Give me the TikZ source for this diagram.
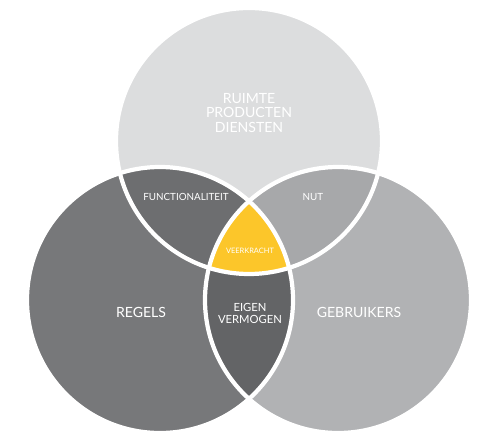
\documentclass[tikz,border=0pt]{standalone}
\usepackage{fontspec}
\setmainfont{Lato}
\usepackage{tikz}
\usetikzlibrary{calc}

\definecolor{topgray}{HTML}{DCDDDE}
\definecolor{leftgray}{HTML}{77787A}
\definecolor{rightgray}{HTML}{B1B2B4}
\definecolor{funcgray}{HTML}{6D6E70}
\definecolor{nutgray}{HTML}{A7A8AA}
\definecolor{eigengray}{HTML}{636466}
\definecolor{veeryellow}{HTML}{FCC62A}

\begin{document}
\begin{tikzpicture}[
  lbl/.style={text=white,align=center,inner sep=0pt},
  rim/.style={draw=white,line width=3pt}]
\useasboundingbox (0cm,0cm) rectangle (12.325cm,10.875cm);
\coordinate (T) at (6.225cm,7.35cm) ;
\coordinate (L) at (4.0cm,3.375cm) ;
\coordinate (R) at (8.45cm,3.375cm) ;
\def\rad{3.325cm}
% the three sets
\fill[topgray] (T) circle (\rad);
\fill[leftgray] (L) circle (\rad);
\fill[rightgray] (R) circle (\rad);
% pairwise overlaps
\begin{scope}
\clip (T) circle (\rad);
\fill[funcgray] (L) circle (\rad);
\fill[nutgray] (R) circle (\rad);
\end{scope}
\begin{scope}
\clip (L) circle (\rad);
\fill[eigengray] (R) circle (\rad);
\end{scope}
% centre
\begin{scope}
\clip (T) circle (\rad);
\clip (L) circle (\rad);
\fill[veeryellow] (R) circle (\rad);
\end{scope}
\draw[rim] (T) circle (\rad);
\draw[rim] (L) circle (\rad);
\draw[rim] (R) circle (\rad);
% labels
\node[lbl,font=\fontsize{10}{10.5}\selectfont] (ruimte) at (6.225cm,8.05cm) {RUIMTE\\PRODUCTEN\\DIENSTEN};
\node[lbl,font=\fontsize{7}{9}\selectfont] (func) at (4.65cm,5.95cm) {FUNCTIONALITEIT};
\node[lbl,font=\fontsize{7}{9}\selectfont] (nut) at (7.825cm,5.95cm) {NUT};
\node[lbl,font=\fontsize{5.3}{7}\selectfont] (veer) at (6.25cm,4.6cm) {VEERKRACHT};
\node[lbl,font=\fontsize{10}{12}\selectfont] (regels) at (3.525cm,3.075cm) {REGELS};
\node[lbl,font=\fontsize{10}{12}\selectfont] (gebr) at (8.975cm,3.075cm) {GEBRUIKERS};
\node[lbl,font=\fontsize{8}{8.5}\selectfont] (eigen) at (6.25cm,3.05cm) {EIGEN\\VERMOGEN};
\end{tikzpicture}
\end{document}
